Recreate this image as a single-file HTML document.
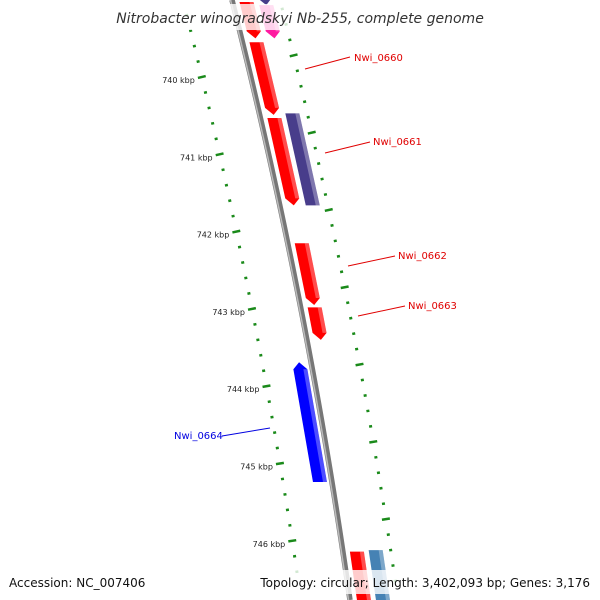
<!DOCTYPE html>
<html><head><meta charset="utf-8">
<style>
body{margin:0;background:#fff;overflow:hidden;}
#wrap{position:relative;width:600px;height:600px;overflow:hidden;font-family:"DejaVu Sans","Liberation Sans",sans-serif;}
svg{position:absolute;left:0;top:0;overflow:hidden;}
</style></head>
<body>
<div id="wrap">
<svg id="map" width="600" height="600" font-family="DejaVu Sans, Liberation Sans, sans-serif"></svg>
</div>
<script>
// ---- data ----
const tickLabels = [740,741,742,743,744,745,746];
const geneNames  = ["g-top-a","g-top-b","g-top-c","Nwi_0660","Nwi_0661a","Nwi_0661","Nwi_0662","Nwi_0663","Nwi_0664","g-bot-a","g-bot-b"];
const geneStart  = [739.03,739.07,738.95,739.55,740.53,740.47,742.15,742.98,743.69,746.14,746.12];
const geneEnd    = [739.50,739.50,739.07,740.49,741.66,741.66,742.95,743.40,745.24,746.85,746.85];
const geneStrand = [1,1,1,1,1,0,1,1,-1,1,0];
const geneTrack  = [1,2,2,1,1,2,1,1,-1,1,2];
const geneColor  = ["#ff0000","#ff1aa0","#483d8b","#ff0000","#ff0000","#483d8b","#ff0000","#ff0000","#0000ff","#ff0000","#4682b4"];
const labelled   = ["Nwi_0660","Nwi_0661","Nwi_0662","Nwi_0663","Nwi_0664"];

const NS="http://www.w3.org/2000/svg";
const svg=document.getElementById('map');
function el(t,a,p){const e=document.createElementNS(NS,t);for(const k in a)e.setAttribute(k,a[k]);(p||svg).appendChild(e);return e;}
function yOf(k){return 77+(k-740)*77.3;}
function bx(y){return 232+0.2514*y-9.13e-5*y*y;}
function dbx(y){return 0.2514-2*9.13e-5*y;}
function pt(y,off){return [bx(y)+off, y];}
function clampY(y){return Math.max(-2,Math.min(602,y));}

// backbone
let pb=[],ph=[];
for(let y=0;y<=600;y+=10){pb.push(pt(y,0).join(','));ph.push(pt(y,-1.5).join(','));}
const bb=el('polyline',{points:pb.join(' '),fill:'none',stroke:'#777','stroke-width':5.5});

const bh=el('polyline',{points:ph.join(' '),fill:'none',stroke:'#bbb','stroke-width':1.5});


function dash(y,off,len){const d=dbx(y),n=Math.sqrt(1+d*d);const c=pt(y,off);const ux=len/2/n,uy=-len/2*d/n;
  return el('line',{x1:c[0]-ux,y1:c[1]-uy,x2:c[0]+ux,y2:c[1]+uy,stroke:'#1a8a1a','stroke-width':2.5});}
for(let i=-6;i<=36;i++){
  const k=740+i*0.2, major=(i%5===0);
  if(yOf(k)>8&&yOf(k)<575){
    const t=dash(yOf(k),-49,major?8:3);
    
  }
  const k2=739.72+i*0.2;
  if(yOf(k2)>8&&yOf(k2)<592){
    const t2=dash(yOf(k2),48,major?8:3);
    
  }
}
tickLabels.forEach(k=>{const c=pt(yOf(k),-49);
  const t=el('text',{x:c[0]-7,y:c[1]+6,'font-size':8,fill:'#222','text-anchor':'end'});t.textContent=k+' kbp';
  });

// genes
geneStart.forEach((s,i)=>{
  const y1=clampY(yOf(s)),y2r=yOf(geneEnd[i]),y2=clampY(y2r),off=geneTrack[i]===2?33:(geneTrack[i]===1?14:-12),hw=7,ah=7;
  let st=geneStrand[i]; if(y2r>602&&st===1) st=0;
  let poly;
  const P=(y,o)=>pt(y,off+o).join(',');
  if(st===1) poly=[P(y1,-hw),P(y1,hw),P(y2-ah,hw),P(y2,0),P(y2-ah,-hw)];
  else if(st===-1) poly=[P(y1,0),P(y1+ah,hw),P(y2,hw),P(y2,-hw),P(y1+ah,-hw)];
  else poly=[P(y1,-hw),P(y1,hw),P(y2,hw),P(y2,-hw)];
  const g=el('polygon',{points:poly.join(' '),fill:geneColor[i]});
  
  const a=st===-1?y1+ah:y1, b=st===1?y2-ah:y2;
  const hl=el('polygon',{points:[P(a,hw-4),P(a,hw),P(b,hw),P(b,hw-4)].join(' '),fill:'#fff','fill-opacity':0.3});
  
});

// labels
const labelPos=[[354,57,305,69,350,57,'#e00000'],[373,141,325,153,370,142,'#e00000'],[398,255,348,266,395,256,'#e00000'],[408,305,358,316,405,306,'#e00000'],[174,435,222,436,270,428,'#0000e0']];
labelled.forEach((n,i)=>{const p=labelPos[i];
  const l=el('line',{x1:p[2],y1:p[3],x2:p[4],y2:p[5],stroke:p[6],'stroke-width':1});
  
  const t=el('text',{x:p[0],y:p[1]+4,'font-size':10,fill:p[6]});t.textContent=n;
  });

// title & footer
const tb=el('rect',{x:0,y:4,width:600,height:26,fill:'#fff','fill-opacity':0.8});

const tt=el('text',{x:300,y:23,'font-size':14,'font-style':'italic',fill:'#333','text-anchor':'middle'});
tt.textContent='Nitrobacter winogradskyi Nb-255, complete genome';

const fb=el('rect',{x:0,y:570,width:600,height:24,fill:'#fff','fill-opacity':0.8});

const f1=el('text',{x:9,y:587,'font-size':12,fill:'#111'});f1.textContent='Accession: NC_007406';

const f2=el('text',{x:590,y:587,'font-size':12,fill:'#111','text-anchor':'end'});f2.textContent='Topology: circular; Length: 3,402,093 bp; Genes: 3,176';

</script>
</body></html>
